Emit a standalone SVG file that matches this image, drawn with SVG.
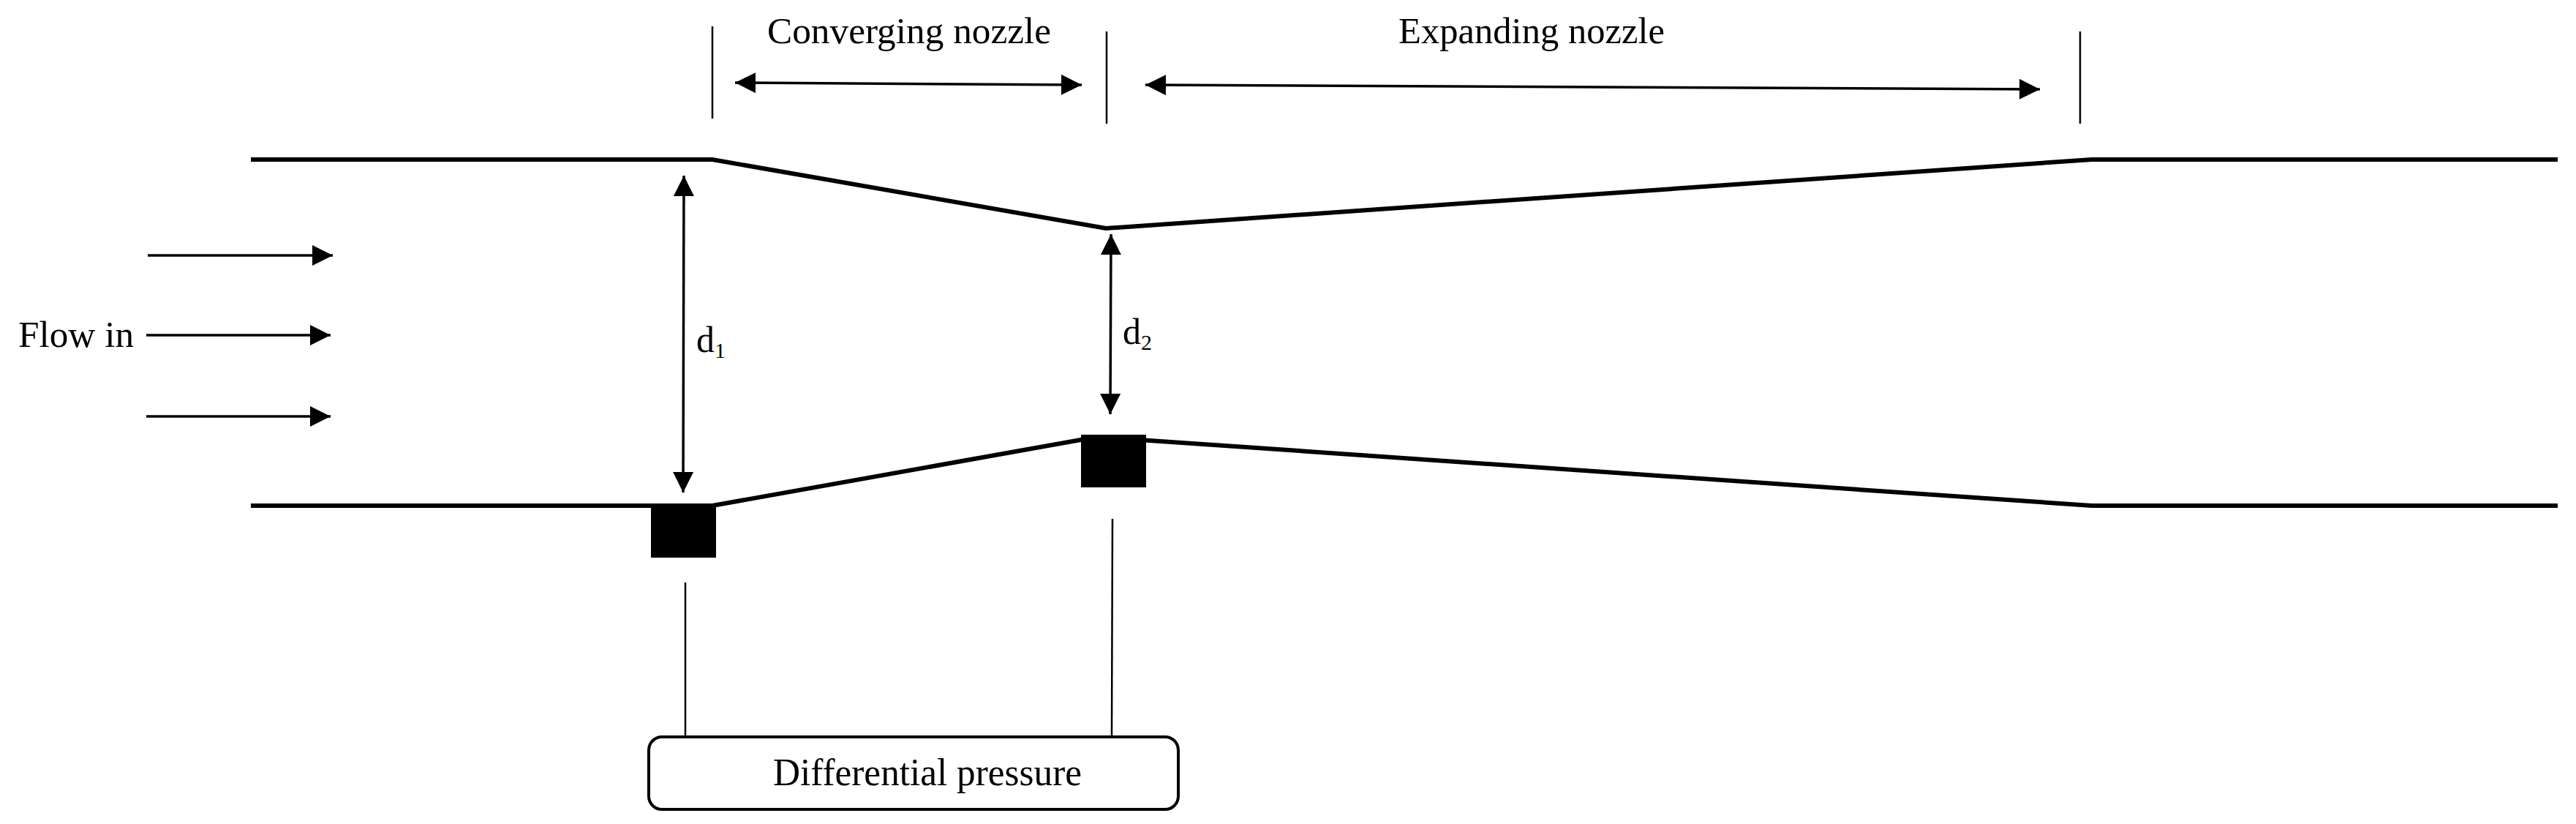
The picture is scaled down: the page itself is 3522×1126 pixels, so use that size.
<svg xmlns="http://www.w3.org/2000/svg" width="3522" height="1126" viewBox="0 0 3522 1126">
<style>
.pipe{stroke:#000;stroke-width:6;fill:none}
.thin{stroke:#000;stroke-width:2.5;fill:none}
.arr{stroke:#000;stroke-width:3.5;fill:none}
text{font-family:"Liberation Serif",serif;fill:#000}
</style>
<defs>
<marker id="a" viewBox="0 0 10 10" refX="10" refY="5" markerWidth="8" markerHeight="8" orient="auto-start-reverse">
<path d="M0,0 L10,5 L0,10 z" fill="#000"/>
</marker>
</defs>
<rect width="3522" height="1126" fill="#fff"/>
<g id="pipe">
<polyline class="pipe" points="343,218 974,218 1512,312 2860,218 3497,218"/>
<polyline class="pipe" points="343,691 974,691 1500,597 2860,691 3497,691"/>
</g>
<g id="tap1"><rect x="890" y="689" width="89" height="73" fill="#000"/></g>
<g id="tap2"><rect x="1478" y="594" width="89" height="72" fill="#000"/></g>
<g id="dp"><rect x="887" y="1007" width="724" height="99" rx="18" fill="#fff" stroke="#000" stroke-width="4"/>
<text x="1268" y="1073" font-size="52" text-anchor="middle" textLength="422" lengthAdjust="spacingAndGlyphs">Differential pressure</text></g>
<g id="labels">
<text x="1243" y="59" font-size="50" text-anchor="middle" textLength="388" lengthAdjust="spacingAndGlyphs">Converging nozzle</text>
<text x="2094" y="59" font-size="50" text-anchor="middle" textLength="364" lengthAdjust="spacingAndGlyphs">Expanding nozzle</text>
<text x="25" y="474" font-size="50" textLength="158" lengthAdjust="spacingAndGlyphs">Flow in</text>
<text x="952" y="481" font-size="50">d<tspan font-size="30" dy="8">1</tspan></text>
<text x="1535" y="470" font-size="50">d<tspan font-size="30" dy="8">2</tspan></text>
</g>
<g id="connectors">
<line class="thin" x1="974" y1="36" x2="974" y2="162"/>
<line class="thin" x1="1513" y1="43" x2="1513" y2="169"/>
<line class="thin" x1="2844" y1="43" x2="2844" y2="169"/>
<line class="arr" x1="1005" y1="113" x2="1479" y2="116" marker-start="url(#a)" marker-end="url(#a)"/>
<line class="arr" x1="1566" y1="116" x2="2789" y2="122" marker-start="url(#a)" marker-end="url(#a)"/>
<line class="arr" x1="935" y1="240" x2="934" y2="673" marker-start="url(#a)" marker-end="url(#a)"/>
<line class="arr" x1="1519" y1="320" x2="1518" y2="566" marker-start="url(#a)" marker-end="url(#a)"/>
<line class="thin" x1="937" y1="796" x2="937" y2="1007"/>
<line class="thin" x1="1521" y1="709" x2="1520" y2="1007"/>
<line class="arr" x1="202" y1="349" x2="455" y2="349" marker-end="url(#a)"/>
<line class="arr" x1="200" y1="458" x2="452" y2="458" marker-end="url(#a)"/>
<line class="arr" x1="200" y1="569" x2="452" y2="569" marker-end="url(#a)"/>
</g>
</svg>
